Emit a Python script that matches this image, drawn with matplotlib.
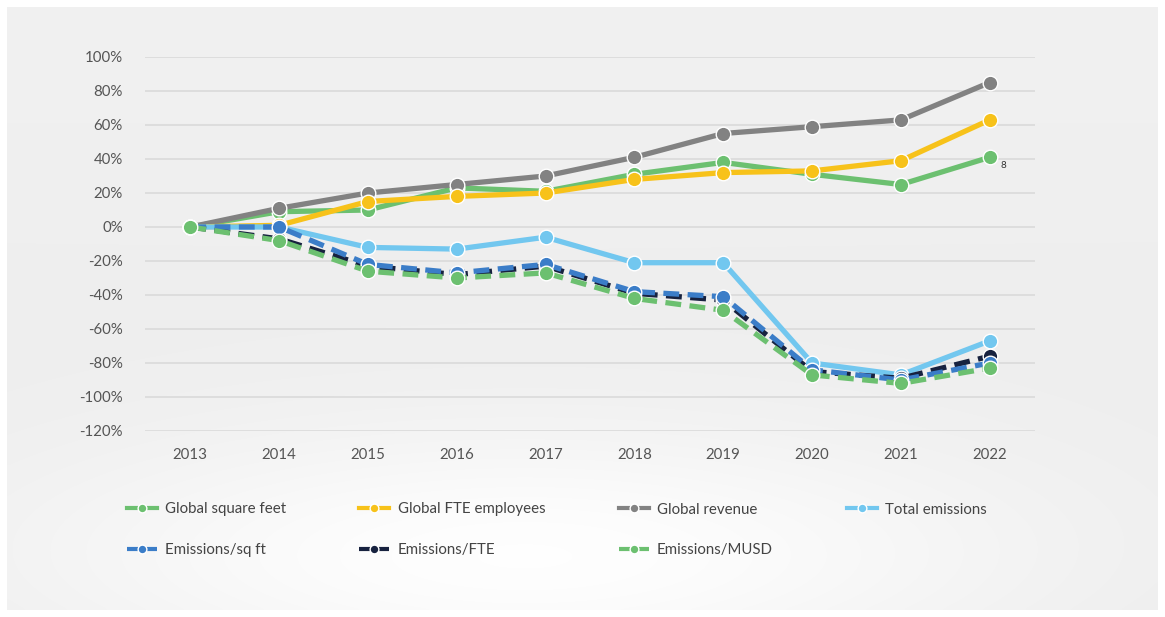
import matplotlib
matplotlib.use("Agg")
import matplotlib.pyplot as plt
import numpy as np

# — Data (% change vs 2013) —
years = [2013, 2014, 2015, 2016, 2017, 2018, 2019, 2020, 2021, 2022]
global_sqft = [0, 9, 10, 23, 21, 31, 38, 31, 25, 41]
global_fte = [0, 1, 15, 18, 20, 28, 32, 33, 39, 63]
global_revenue = [0, 11, 20, 25, 30, 41, 55, 59, 63, 85]
total_emissions = [0, 0, -12, -13, -6, -21, -21, -80, -87, -67]
emissions_sqft = [0, 0, -22, -27, -22, -38, -41, -84, -90, -80]
emissions_fte = [0, -7, -23, -28, -23, -39, -43, -85, -89, -76]
emissions_musd = [0, -8, -26, -30, -27, -42, -49, -87, -92, -83]
y_ticks = [100, 80, 60, 40, 20, 0, -20, -40, -60, -80, -100, -120]

GREEN = "#6cc070"
YELLOW = "#f7c21a"
GREY = "#828282"
LIGHTBLUE = "#72c7ef"
BLUE = "#3b7dc8"
NAVY = "#17223f"

plt.rcParams['font.family'] = ['Lato', 'DejaVu Sans']

W, H = 1165, 617
fig = plt.figure(figsize=(W / 100, H / 100), dpi=100)
fig.patch.set_facecolor('white')

# — Background panel with soft gradient —
bg = fig.add_axes([7 / W, 7 / H, (1158 - 7) / W, (610 - 7) / H])
bg.axis('off')
gx = np.linspace(0, 1, 400)
gy = np.linspace(0, 1, 220)
X, Y = np.meshgrid(gx, gy)
base = 0.945 - 0.02 * Y
glow = np.exp(-(((X - 0.45) / 0.45) ** 2 + ((Y - 0.92) / 0.22) ** 2))
shade = np.clip(base + 0.07 * glow, 0, 1)
bg.imshow(np.dstack([shade, shade, shade]), aspect='auto', extent=[0, 1, 0, 1],
          interpolation='bicubic')

# — Main chart —
ax = fig.add_axes([145 / W, (617 - 431) / H, (1035 - 145) / W, (431 - 57) / H])
ax.set_facecolor('none')

line_kw = dict(linewidth=3.8, marker='o', markersize=10.5,
               markeredgecolor='white', markeredgewidth=1.0)
ax.plot(years, global_sqft, color=GREEN, label='Global square feet', **line_kw)
ax.plot(years, global_revenue, color=GREY, label='Global revenue', **line_kw)
ax.plot(years, global_fte, color=YELLOW, label='Global FTE employees', **line_kw)
ax.plot(years, total_emissions, color=LIGHTBLUE, label='Total emissions', **line_kw)
ax.plot(years, emissions_fte, color=NAVY, linestyle=(0, (3, 1.6)),
        label='Emissions/FTE', **line_kw)
ax.plot(years, emissions_sqft, color=BLUE, linestyle=(0, (3, 1.6)),
        label='Emissions/sq ft', **line_kw)
ax.plot(years, emissions_musd, color=GREEN, linestyle=(0, (3, 1.6)),
        label='Emissions/MUSD', **line_kw)

ax.annotate('8', (years[-1], global_sqft[-1]), xytext=(8, -8),
            textcoords='offset points', fontsize=7, color='#333333')

ax.set_xlim(2012.49, 2022.51)
ax.set_ylim(-120, 100)
ax.set_xticks(years)
ax.set_yticks(y_ticks)
ax.set_yticklabels([f"{v}%" for v in y_ticks])
ax.tick_params(axis='both', length=0, labelsize=10.8, labelcolor='#555555')
ax.tick_params(axis='y', pad=16)
ax.tick_params(axis='x', pad=12)
ax.grid(axis='y', color='#dcdcdc', linewidth=1.3)
ax.set_axisbelow(True)
for s in ax.spines.values():
    s.set_visible(False)

# — Legend —
handles, labels = ax.get_legend_handles_labels()
order = ['Global square feet', 'Emissions/sq ft', 'Global FTE employees',
         'Emissions/FTE', 'Global revenue', 'Emissions/MUSD', 'Total emissions']
hmap = dict(zip(labels, handles))
leg = fig.legend([hmap[k] for k in order], order, ncol=4,
                 loc='upper left', bbox_to_anchor=(113 / W, 1 - 489 / H),
                 frameon=False, fontsize=10.8, handlelength=2.0, handletextpad=0.55,
                 columnspacing=4.9, labelspacing=1.75, markerscale=0.6,
                 labelcolor='#444444')
for h in leg.legend_handles:
    h.set_linewidth(3)

fig.savefig('out.png', dpi=100, facecolor=fig.get_facecolor())
